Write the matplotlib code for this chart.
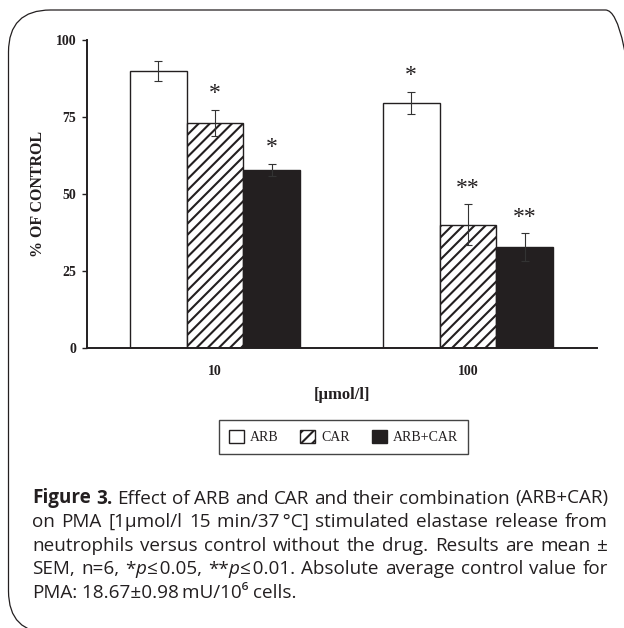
import re

import matplotlib
matplotlib.use("Agg")
import matplotlib.pyplot as plt
import matplotlib.patches as mpatches
import numpy as np

# data (% of control, mean +/- SEM)
concentrations = ["10", "100"]
series_names = ["ARB", "CAR", "ARB+CAR"]
arb_mean = [90.0, 79.6]
arb_sem = [3.3, 3.5]
car_mean = [73.0, 40.0]
car_sem = [4.3, 6.7]
combo_mean = [57.8, 32.7]
combo_sem = [2.0, 4.5]
arb_stars = ["", "*"]
car_stars = ["*", "**"]
combo_stars = ["*", "**"]
y_ticks = [0, 25, 50, 75, 100]

caption_lines = [
    "<b>Figure</b> <b>3.</b> Effect of ARB and CAR and their combination (ARB+CAR)",
    "on PMA [1\u00b5mol/l 15 min/37\u2009\u00b0C] stimulated elastase release from",
    "neutrophils versus control without the drug. Results are mean \u00b1",
    "SEM, n=6, *<i>p</i>\u2264\u200a0.05, **<i>p</i>\u2264\u200a0.01. Absolute average control value for",
    "PMA: 18.67\u00b10.98\u2009mU/10\u2076 cells.",
]

INK = "#231f20"
SERIF = "Liberation Serif"
W, H = 624, 628

fig = plt.figure(figsize=(W / 100, H / 100), dpi=100)
fig.patch.set_facecolor("white")

# rounded frame (pixel coords); right and bottom sides run off the picture
frame = mpatches.FancyBboxPatch((8.5, -5), 639, 623,
                                boxstyle="round,pad=0,rounding_size=42",
                                transform=None,
                                facecolor="none", edgecolor=INK, lw=0.9)
fig.patches.append(frame)

ax = fig.add_axes([87 / W, 1 - 348 / H, (597 - 87) / W, (348 - 40) / H])

x = np.arange(len(concentrations))
width = 0.225
plt.rcParams["hatch.linewidth"] = 1.5

ax.bar(x - width, arb_mean, width, color="white", edgecolor=INK,
       lw=1.0, label=series_names[0], zorder=2)
ax.bar(x, car_mean, width, color="white", edgecolor=INK, hatch="///",
       lw=1.0, label=series_names[1], zorder=2)
ax.bar(x + width, combo_mean, width, color=INK, edgecolor=INK,
       lw=1.0, label=series_names[2], zorder=2)

for offs, vals, errs, stars in [(-width, arb_mean, arb_sem, arb_stars),
                                (0, car_mean, car_sem, car_stars),
                                (width, combo_mean, combo_sem, combo_stars)]:
    ax.errorbar(x + offs, vals, yerr=errs, fmt="none", ecolor="#333333",
                elinewidth=0.8, capsize=3, capthick=0.8, zorder=3)
    for xi, v, e, s in zip(x + offs, vals, errs, stars):
        if s:
            ax.annotate(s, (xi, v + e), xytext=(0, 4), textcoords="offset points",
                        ha="center", va="bottom", fontsize=17, family=SERIF,
                        color=INK)

ax.set_xlim(-0.506, 1.510)
ax.set_ylim(0, 100)
ax.set_yticks(y_ticks)
ax.set_xticks(x)
ax.set_xticklabels(concentrations)

for side in ["top", "right"]:
    ax.spines[side].set_visible(False)
for side in ["left", "bottom"]:
    ax.spines[side].set_color(INK)
    ax.spines[side].set_linewidth(1.4)

ax.tick_params(axis="y", length=3.6, width=1.0, color=INK, pad=4)
ax.tick_params(axis="x", length=0, pad=12)
for lbl in ax.get_xticklabels() + ax.get_yticklabels():
    lbl.set_fontfamily(SERIF)
    lbl.set_fontweight("bold")
    lbl.set_fontsize(10)
    lbl.set_color(INK)

ax.set_ylabel("% OF CONTROL", family=SERIF, fontweight="bold", fontsize=11.5,
              color=INK, labelpad=7)
ax.set_xlabel("[\u00b5mol/l]", family=SERIF, fontweight="bold", fontsize=12,
              color=INK, labelpad=7)

leg = ax.legend(loc="center", bbox_to_anchor=(343.5 / W, 1 - 437 / H),
                bbox_transform=fig.transFigure, ncol=3, frameon=True,
                fancybox=False, edgecolor="#444444", framealpha=1,
                handlelength=1.08, handleheight=1.08, handletextpad=0.43,
                columnspacing=1.6, borderpad=0.7,
                prop={"family": SERIF, "size": 10})
leg.get_frame().set_linewidth(1.0)
for t in leg.get_texts():
    t.set_color(INK)

# caption, justified line by line
renderer = fig.canvas.get_renderer()
CAP_FONT = ["Open Sans", "DejaVu Sans"]
STYLES = {"n": {}, "b": {"fontweight": "bold"}, "i": {"fontstyle": "italic"}}


def parse_word(word):
    segs = []
    for part in re.split(r"(<[bi]>.*?</[bi]>)", word):
        if not part:
            continue
        m = re.match(r"<([bi])>(.*?)</[bi]>", part)
        if m:
            segs.append((m.group(2), m.group(1)))
        else:
            segs.append((part, "n"))
    return segs


def seg_width(text, style, size):
    t = fig.text(0, 0, text, fontsize=size, family=CAP_FONT, **STYLES[style])
    w = t.get_window_extent(renderer).width
    t.remove()
    return w


def natural_width(line, size):
    words = [parse_word(wd) for wd in line.split(" ")]
    sp = seg_width("a a", "n", size) - seg_width("aa", "n", size)
    return sum(seg_width(t, s, size) for wd in words for t, s in wd) + sp * (len(words) - 1)


x_left, x_right = 32, 608
baselines = [503.5, 527, 551, 574.5, 598]

# pick the caption size so the longest justified line just fills the column
base = 11
widest = max(natural_width(ln, base) for ln in caption_lines[:-1])
cap_size = base * (x_right - x_left) / widest
space_w = seg_width("a a", "n", cap_size) - seg_width("aa", "n", cap_size)

for i, (line, yb) in enumerate(zip(caption_lines, baselines)):
    words = [parse_word(wd) for wd in line.split(" ")]
    widths = [[seg_width(txt, st, cap_size) for txt, st in wd] for wd in words]
    total = sum(sum(ws) for ws in widths)
    justify = i < len(caption_lines) - 1
    gap = (x_right - x_left - total) / (len(words) - 1) if justify else space_w
    xp = x_left
    for wd, ws in zip(words, widths):
        for (txt, st), wseg in zip(wd, ws):
            fig.text(xp / W, 1 - yb / H, txt, fontsize=cap_size, family=CAP_FONT,
                     va="baseline", ha="left", color=INK, **STYLES[st])
            xp += wseg
        xp += gap

fig.savefig("out.png", dpi=100)
